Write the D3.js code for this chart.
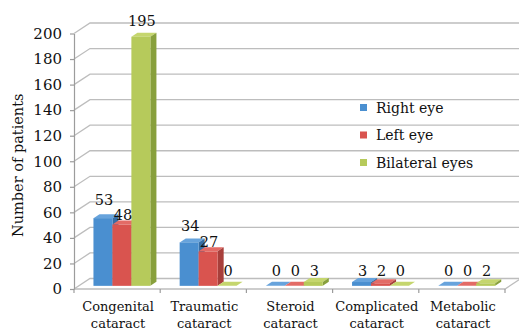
<!DOCTYPE html>
<html>
<head>
<meta charset="utf-8">
<script src="https://cdn.jsdelivr.net/npm/d3@7"></script>
<style>
  html, body { margin: 0; padding: 0; background: #fff; }
  svg { display: block; }
  text { font-family: "DejaVu Serif", "Liberation Serif", serif; fill: #111; }
</style>
</head>
<body>
<svg id="chart" width="519" height="330"></svg>
<script>
// Cataract cases by type and affected eye
const categories = ["Congenital cataract", "Traumatic cataract", "Steroid cataract", "Complicated cataract", "Metabolic cataract"];
const seriesNames = ["Right eye", "Left eye", "Bilateral eyes"];
const rightEye = [53, 34, 0, 3, 0];
const leftEye = [48, 27, 0, 2, 0];
const bilateralEyes = [195, 0, 3, 0, 2];
const yTicks = [0, 20, 40, 60, 80, 100, 120, 140, 160, 180, 200];
const yTitle = "Number of patients";

const seriesValues = [rightEye, leftEye, bilateralEyes];
const faceColors = [
  { front: "#4a8fd0", side: "#356ea6", top: "#67a3dc" },
  { front: "#d9544f", side: "#a83f3b", top: "#e36b66" },
  { front: "#b6ca5b", side: "#88a03d", top: "#c5d66e" }
];

const svg = d3.select("#chart");
const W = 519;

// front plane of the 3-D box and its depth vector
const X0 = 74, X1 = 505;
const DX = 16, DY = -10.5;
const T1 = 0.3, T2 = 0.68;   // bar front / back as fractions of the depth

const y = d3.scaleLinear().domain([0, 200]).range([289, 33.5]);
const x = d3.scaleBand().domain(categories).range([X0, X1]).paddingInner(0.34).paddingOuter(0.17);
const xs = d3.scaleBand().domain(seriesNames).range([0, x.bandwidth()]);
const edge = d3.scaleLinear().domain([0, categories.length]).range([X0, X1]);

const gridColor = "#bdbdbd";

// left wall + back wall gridlines
svg.append("g").selectAll("path").data(yTicks).join("path")
  .attr("d", v => `M${X0},${y(v)}L${X0 + DX},${y(v) + DY}L${W + 5},${y(v) + DY}`)
  .attr("fill", "none").attr("stroke", gridColor).attr("stroke-width", 1.3);

// floor outline
svg.append("path")
  .attr("d", `M${X0},${y(0)}L${X1},${y(0)}L${X1 + DX},${y(0) + DY}`)
  .attr("fill", "none").attr("stroke", gridColor).attr("stroke-width", 1.3);

// y axis
const yAxis = svg.append("g").attr("transform", `translate(${X0},0)`)
  .call(d3.axisLeft(y).tickValues(yTicks).tickSize(4).tickSizeOuter(0).tickPadding(8));
yAxis.select(".domain").attr("stroke", "#9c9c9c").attr("stroke-width", 1.2);
yAxis.selectAll(".tick line").attr("stroke", "#9c9c9c").attr("stroke-width", 1.2);
yAxis.selectAll(".tick text").attr("font-size", 15).attr("fill", "#111")
  .attr("font-family", "DejaVu Serif, serif");

// category boundary ticks on the floor's front edge
svg.append("g").selectAll("line").data(d3.range(categories.length + 1)).join("line")
  .attr("x1", i => edge(i)).attr("x2", i => edge(i))
  .attr("y1", y(0)).attr("y2", y(0) + 4)
  .attr("stroke", "#9c9c9c").attr("stroke-width", 1.2);

// category labels, two lines each
const catLabels = svg.append("g").selectAll("text").data(categories).join("text")
  .attr("text-anchor", "middle").attr("font-size", 13)
  .attr("transform", d => `translate(${x(d) + x.bandwidth() / 2 + 1},0)`);
catLabels.selectAll("tspan").data(d => d.split(" ")).join("tspan")
  .attr("x", 0).attr("y", (d, i) => 310.5 + i * 17.5).text(d => d);

// bars: top, side and front faces, drawn left to right so each front face covers the previous side
const fx = DX * T1, fy = DY * T1;
const bdx = DX * (T2 - T1), bdy = DY * (T2 - T1);
const bw = xs.bandwidth();

const bars = [];
categories.forEach((c, ci) => {
  seriesNames.forEach((s, si) => {
    bars.push({ c, s, si, v: seriesValues[si][ci] });
  });
});

const barG = svg.append("g").selectAll("g").data(bars).join("g");
barG.each(function (d) {
  const g = d3.select(this);
  const xl = x(d.c) + xs(d.s) + fx;
  const xr = xl + bw;
  const yb = y(0) + fy;
  const yt = y(d.v) + fy;
  const col = faceColors[d.si];
  g.append("path")
    .attr("d", `M${xl},${yt}L${xl + bdx},${yt + bdy}L${xr + bdx},${yt + bdy}L${xr},${yt}Z`)
    .attr("fill", col.top);
  g.append("path")
    .attr("d", `M${xr},${yt}L${xr + bdx},${yt + bdy}L${xr + bdx},${yb + bdy}L${xr},${yb}Z`)
    .attr("fill", col.side);
  g.append("rect")
    .attr("x", xl).attr("y", yt).attr("width", bw).attr("height", yb - yt)
    .attr("fill", col.front);
});

// value labels above each bar
const labelLift = [13, 4.5, 11];
svg.append("g").selectAll("text").data(bars).join("text")
  .attr("text-anchor", "middle").attr("font-size", 14.5)
  .attr("x", d => x(d.c) + xs(d.s) + fx + bw / 2 + 1)
  .attr("y", d => {
    const top = y(d.v) + fy;
    const lift = Math.min(labelLift[d.si], 5 + 0.2 * d.v);
    return Math.min(276, top - lift);
  })
  .text(d => d.v);

// y axis title
svg.append("text")
  .attr("transform", `translate(23,${(y(0) + y(200)) / 2 + 4}) rotate(-90)`)
  .attr("text-anchor", "middle").attr("font-size", 14.5)
  .text(yTitle);

// legend
const legend = svg.append("g").selectAll("g").data(seriesNames).join("g")
  .attr("transform", (d, i) => `translate(360,${107.5 + i * 27.5})`);
legend.append("rect").attr("x", 0).attr("y", -3.5).attr("width", 7).attr("height", 7)
  .attr("fill", (d, i) => faceColors[i].front);
legend.append("text").attr("x", 16).attr("y", 5).attr("font-size", 14).text(d => d);
</script>
</body>
</html>
